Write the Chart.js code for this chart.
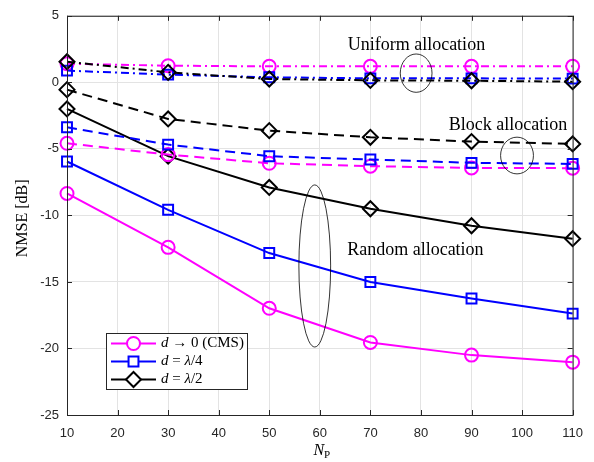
<!DOCTYPE html>
<html>
<head>
<meta charset="utf-8">
<script src="https://cdn.jsdelivr.net/npm/chart.js@4.4.1/dist/chart.umd.min.js"></script>
<style>
    body { margin: 0; background: #fff; }
    #wrap { width: 594px; height: 462px; }
</style>
</head>
<body>
<div id="wrap"><canvas id="nmseChart" width="594" height="462"></canvas></div>
<script>
const npValues = [10, 30, 50, 70, 90, 110];

// random allocation (solid lines)
const randomCms = [-8.35, -12.4, -16.98, -19.55, -20.5, -21.03];
const randomQuarter = [-5.95, -9.58, -12.83, -15.0, -16.25, -17.38];
const randomHalf = [-2.0, -5.55, -7.9, -9.5, -10.78, -11.75];

// block allocation (dashed lines)
const blockCms = [-4.58, -5.43, -6.08, -6.3, -6.43, -6.45];
const blockQuarter = [-3.38, -4.68, -5.55, -5.8, -6.05, -6.13];
const blockHalf = [-0.55, -2.75, -3.63, -4.13, -4.45, -4.63];

// uniform allocation (dash-dot lines)
const uniformCms = [1.4, 1.25, 1.2, 1.2, 1.2, 1.2];
const uniformQuarter = [0.88, 0.58, 0.38, 0.3, 0.3, 0.28];
const uniformHalf = [1.55, 0.75, 0.25, 0.15, 0.12, 0.05];

const xTickValues = [10, 20, 30, 40, 50, 60, 70, 80, 90, 100, 110];
const yTickValues = [-25, -20, -15, -10, -5, 0, 5];

const seriesLabels = [
    [{ t: 'd', it: true }, { t: ' → 0 (CMS)' }],
    [{ t: 'd', it: true }, { t: ' = ' }, { t: 'λ', it: true }, { t: '/4' }],
    [{ t: 'd', it: true }, { t: ' = ' }, { t: 'λ', it: true }, { t: '/2' }],
];

// annotation text and ellipses, in data units
const notes = [
    { text: 'Uniform allocation', x: 79.1, y: 2.75 },
    { text: 'Block allocation', x: 97.2, y: -3.25 },
    { text: 'Random allocation', x: 78.9, y: -12.6 },
];
const ellipses = [
    { x: 79.05, y: 0.69, rx: 3.14, ry: 1.44 },
    { x: 99.0, y: -5.5, rx: 3.25, ry: 1.38 },
    { x: 59.0, y: -13.8, rx: 3.14, ry: 6.09 },
];

const MAGENTA = '#ff00ff';
const BLUE = '#0000ff';
const BLACK = '#000000';
const SOLID = [];
const DASHED = [10, 6];
const DASHDOT = [8, 4, 2, 4];
const SERIF = '"Liberation Serif", "DejaVu Serif", serif';

const styles = [
    { color: BLACK, point: 'rectRot', radius: 7.5 },
    { color: BLUE, point: 'rect', radius: 7 },
    { color: MAGENTA, point: 'circle', radius: 6.5 },
];

function makeSet(values, style, dash) {
    return {
        data: values.map((v, i) => ({ x: npValues[i], y: v })),
        borderColor: style.color,
        backgroundColor: 'rgba(0,0,0,0)',
        borderWidth: 2,
        borderDash: dash,
        pointStyle: style.point,
        pointRadius: style.radius,
        pointHoverRadius: style.radius,
        pointBorderWidth: 2,
        pointBorderColor: style.color,
        pointBackgroundColor: 'rgba(0,0,0,0)',
        tension: 0,
        clip: false,
    };
}

const datasets = [
    makeSet(uniformHalf, styles[0], DASHDOT),
    makeSet(uniformQuarter, styles[1], DASHDOT),
    makeSet(uniformCms, styles[2], DASHDOT),
    makeSet(blockHalf, styles[0], DASHED),
    makeSet(blockQuarter, styles[1], DASHED),
    makeSet(blockCms, styles[2], DASHED),
    makeSet(randomHalf, styles[0], SOLID),
    makeSet(randomQuarter, styles[1], SOLID),
    makeSet(randomCms, styles[2], SOLID),
];

function drawRich(ctx, parts, x, y, size) {
    let cx = x;
    parts.forEach(p => {
        ctx.font = (p.it ? 'italic ' : '') + size + 'px ' + SERIF;
        ctx.fillText(p.t, cx, y);
        cx += ctx.measureText(p.t).width;
    });
}

const matlabFrame = {
    id: 'matlabFrame',
    beforeDraw(chart) {
        const ctx = chart.ctx;
        ctx.save();
        ctx.fillStyle = '#fff';
        ctx.fillRect(0, 0, chart.width, chart.height);
        ctx.restore();
    },
    afterDatasetsDraw(chart) {
        const ctx = chart.ctx;
        const { left, right, top, bottom } = chart.chartArea;
        const xs = chart.scales.x;
        const ys = chart.scales.y;
        ctx.save();

        // box and inward ticks
        ctx.strokeStyle = '#262626';
        ctx.lineWidth = 1;
        ctx.strokeRect(left + 0.5, top + 0.5, right - left, bottom - top);
        ctx.beginPath();
        xTickValues.forEach(v => {
            const px = Math.round(xs.getPixelForValue(v)) + 0.5;
            ctx.moveTo(px, bottom); ctx.lineTo(px, bottom - 5);
            ctx.moveTo(px, top); ctx.lineTo(px, top + 5);
        });
        yTickValues.forEach(v => {
            const py = Math.round(ys.getPixelForValue(v)) + 0.5;
            ctx.moveTo(left, py); ctx.lineTo(left + 5, py);
            ctx.moveTo(right, py); ctx.lineTo(right - 5, py);
        });
        ctx.stroke();

        // annotation ellipses
        ctx.strokeStyle = '#000';
        ctx.lineWidth = 0.8;
        ellipses.forEach(e => {
            const cx = xs.getPixelForValue(e.x);
            const cy = ys.getPixelForValue(e.y);
            const rx = Math.abs(xs.getPixelForValue(e.x + e.rx) - cx);
            const ry = Math.abs(ys.getPixelForValue(e.y + e.ry) - cy);
            ctx.beginPath();
            ctx.ellipse(cx, cy, rx, ry, 0, 0, Math.PI * 2);
            ctx.stroke();
        });

        // annotation texts
        ctx.fillStyle = '#000';
        ctx.font = '18px ' + SERIF;
        ctx.textAlign = 'center';
        ctx.textBaseline = 'middle';
        notes.forEach(n => {
            ctx.fillText(n.text, xs.getPixelForValue(n.x), ys.getPixelForValue(n.y));
        });

        // legend box (random allocation sets)
        const lx = 106, ly = 333, lw = 141, lh = 56;
        ctx.fillStyle = '#fff';
        ctx.fillRect(lx, ly, lw, lh);
        ctx.strokeStyle = '#262626';
        ctx.lineWidth = 1;
        ctx.strokeRect(lx + 0.5, ly + 0.5, lw, lh);
        const legendSets = [datasets[8], datasets[7], datasets[6]];
        legendSets.forEach((ds, i) => {
            const ry = ly + 10.5 + i * 18;
            ctx.strokeStyle = ds.borderColor;
            ctx.lineWidth = 2;
            ctx.setLineDash([]);
            ctx.beginPath();
            ctx.moveTo(lx + 5, ry);
            ctx.lineTo(lx + 50, ry);
            ctx.stroke();
            ctx.fillStyle = '#fff';
            Chart.helpers.drawPoint(ctx, {
                pointStyle: ds.pointStyle,
                radius: ds.pointRadius,
                borderWidth: 2,
                rotation: 0,
            }, lx + 27.5, ry);
            ctx.fillStyle = '#000';
            ctx.textAlign = 'left';
            ctx.textBaseline = 'middle';
            drawRich(ctx, seriesLabels[i], lx + 55, ry, 15);
        });

        // axis titles
        ctx.fillStyle = '#000';
        ctx.textAlign = 'center';
        ctx.textBaseline = 'middle';
        ctx.save();
        ctx.translate(23, (top + bottom) / 2 + 3);
        ctx.rotate(-Math.PI / 2);
        ctx.font = '16px ' + SERIF;
        ctx.fillText('NMSE [dB]', 0, 0);
        ctx.restore();

        ctx.textAlign = 'left';
        ctx.font = 'italic 16px ' + SERIF;
        const nw = ctx.measureText('N').width;
        ctx.font = '11px ' + SERIF;
        const pw = ctx.measureText('P').width;
        const x0 = (left + right) / 2 - (nw + pw) / 2 + 2;
        ctx.font = 'italic 16px ' + SERIF;
        ctx.fillText('N', x0, 451);
        ctx.font = '11px ' + SERIF;
        ctx.fillText('P', x0 + nw, 455);

        ctx.restore();
    },
};

const ctx = document.getElementById('nmseChart').getContext('2d');
const nmseChart = new Chart(ctx, {
    type: 'line',
    data: { datasets: datasets },
    plugins: [matlabFrame],
    options: {
        responsive: false,
        animation: false,
        devicePixelRatio: 1,
        layout: { padding: { top: 15, right: 20, left: 0, bottom: 0 } },
        plugins: {
            legend: { display: false },
            tooltip: { enabled: false },
        },
        scales: {
            x: {
                type: 'linear',
                min: 10,
                max: 110,
                afterFit: s => { s.height = 47; },
                afterBuildTicks: s => { s.ticks = xTickValues.map(v => ({ value: v })); },
                grid: { color: '#e3e3e3', lineWidth: 1, drawTicks: false },
                border: { display: false },
                ticks: {
                    padding: 11,
                    color: '#262626',
                    font: { family: '"Liberation Sans", Arial, sans-serif', size: 13 },
                    maxRotation: 0,
                },
            },
            y: {
                min: -25,
                max: 5,
                afterFit: s => { s.width = 67; },
                afterBuildTicks: s => { s.ticks = yTickValues.map(v => ({ value: v })); },
                grid: { color: '#e3e3e3', lineWidth: 1, drawTicks: false },
                border: { display: false },
                ticks: {
                    padding: 8,
                    color: '#262626',
                    font: { family: '"Liberation Sans", Arial, sans-serif', size: 13 },
                },
            },
        },
    },
});
</script>
</body>
</html>
